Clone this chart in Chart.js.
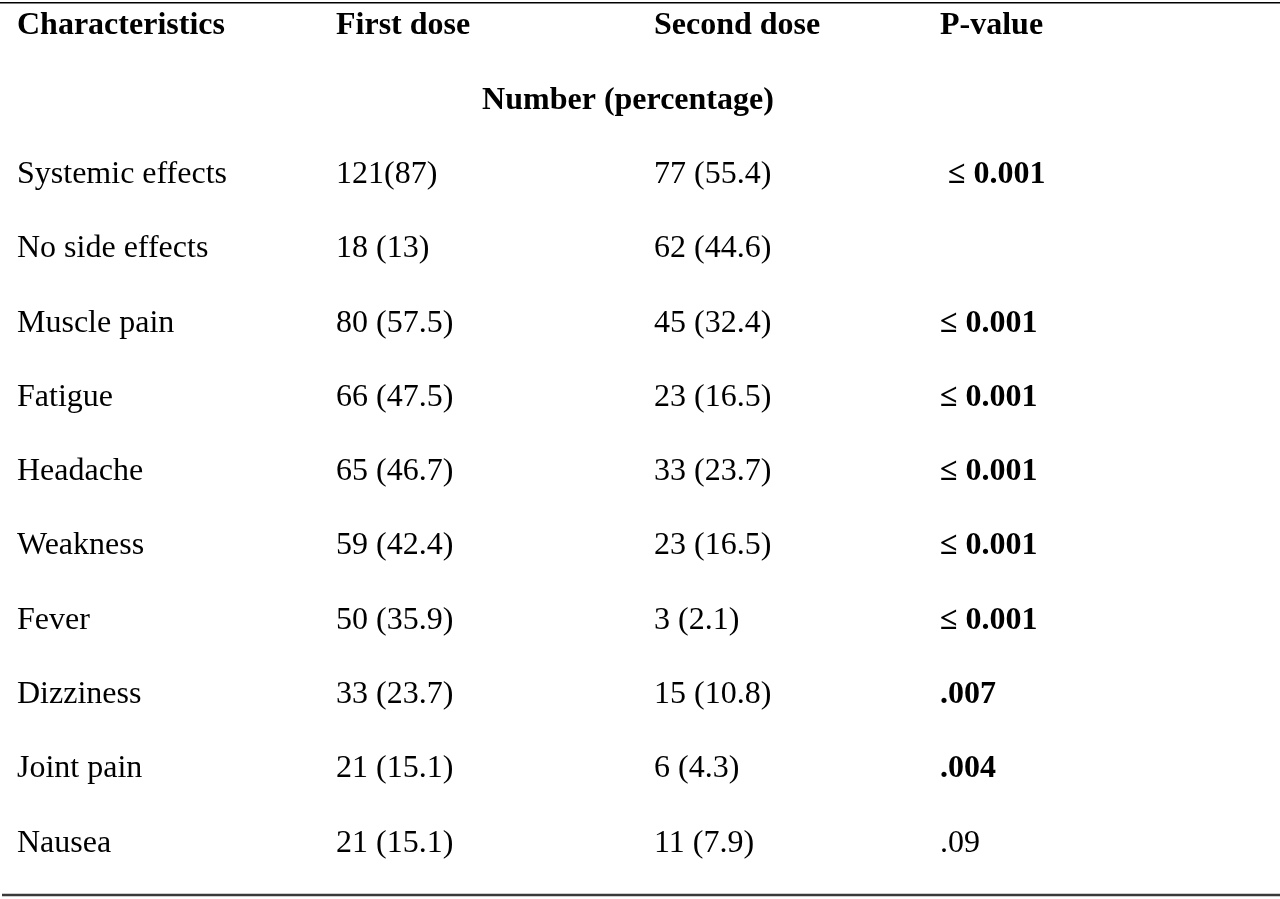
<!DOCTYPE html>
<html>
<head>
<meta charset="utf-8">
<script src="https://cdn.jsdelivr.net/npm/chart.js@4.4.1/dist/chart.umd.min.js"></script>
<style>
html,body{margin:0;padding:0;background:#fff;}
#wrap{width:1280px;height:899px;position:relative;}
</style>
</head>
<body>
<div id="wrap"><canvas id="c"></canvas></div>
<script>
// ---- data ----
const headers = ['Characteristics', 'First dose', 'Second dose', 'P-value'];
const subHeader = 'Number (percentage)';
const categories = ['Systemic effects', 'No side effects', 'Muscle pain', 'Fatigue', 'Headache',
  'Weakness', 'Fever', 'Dizziness', 'Joint pain', 'Nausea'];
const firstCount = [121, 18, 80, 66, 65, 59, 50, 33, 21, 21];
const firstPct = [87, 13, 57.5, 47.5, 46.7, 42.4, 35.9, 23.7, 15.1, 15.1];
const secondCount = [77, 62, 45, 23, 33, 23, 3, 15, 6, 11];
const secondPct = [55.4, 44.6, 32.4, 16.5, 23.7, 16.5, 2.1, 10.8, 4.3, 7.9];
const pValues = [' \u2264 0.001', '', '\u2264 0.001', '\u2264 0.001', '\u2264 0.001', '\u2264 0.001',
  '\u2264 0.001', '.007', '.004', '.09'];
const pBold = [true, false, true, true, true, true, true, true, true, false];

// ---- layout ----
const colX = [17, 336, 654, 940];
const subHeaderX = 628;
const FONT = '"Liberation Serif", "Times New Roman", serif';
const SIZE = 32;

function fmt(c, p, i, tight) {
  return c + (tight ? '' : ' ') + '(' + p + ')';
}

const tablePlugin = {
  id: 'tablePlugin',
  afterDraw(chart) {
    const ctx = chart.ctx;
    const xs = chart.scales.x, ys = chart.scales.y;
    const area = chart.chartArea;
    ctx.save();
    // rules
    ctx.strokeStyle = '#000';
    ctx.lineWidth = 1.6;
    ctx.beginPath();
    ctx.moveTo(area.left, area.top + 0.8);
    ctx.lineTo(area.right, area.top + 0.8);
    ctx.stroke();
    ctx.strokeStyle = '#3a3a3a';
    ctx.lineWidth = 2.6;
    ctx.beginPath();
    ctx.moveTo(area.left + 2, area.bottom);
    ctx.lineTo(area.right, area.bottom);
    ctx.stroke();

    ctx.fillStyle = '#000';
    ctx.textBaseline = 'alphabetic';
    const draw = (txt, xv, row, bold, align) => {
      ctx.font = (bold ? 'bold ' : '') + SIZE + 'px ' + FONT;
      ctx.textAlign = align || 'left';
      ctx.fillText(txt, xs.getPixelForValue(xv), ys.getPixelForValue(row));
    };
    headers.forEach((h, j) => draw(h, colX[j], 0, true));
    draw(subHeader, subHeaderX, 1, true, 'center');
    categories.forEach((cat, i) => {
      const r = i + 2;
      draw(cat, colX[0], r, false);
      draw(fmt(firstCount[i], firstPct[i], i, i === 0), colX[1], r, false);
      draw(fmt(secondCount[i], secondPct[i], i, false), colX[2], r, false);
      if (pValues[i]) draw(pValues[i], colX[3], r, pBold[i]);
    });
    ctx.restore();
  }
};

const rowCount = categories.length + 2;
new Chart(document.getElementById('c'), {
  type: 'scatter',
  data: { datasets: [{ data: [], pointRadius: 0 }] },
  options: {
    responsive: true,
    maintainAspectRatio: false,
    animation: false,
    events: [],
    layout: { padding: { top: 2, bottom: 4, left: 0, right: 0 } },
    plugins: { legend: { display: false }, tooltip: { enabled: false } },
    scales: {
      x: { type: 'linear', min: 0, max: 1280, display: false },
      y: { type: 'linear', reverse: true, min: -0.436, max: rowCount - 0.417, display: false }
    }
  },
  plugins: [tablePlugin]
});
</script>
</body>
</html>
